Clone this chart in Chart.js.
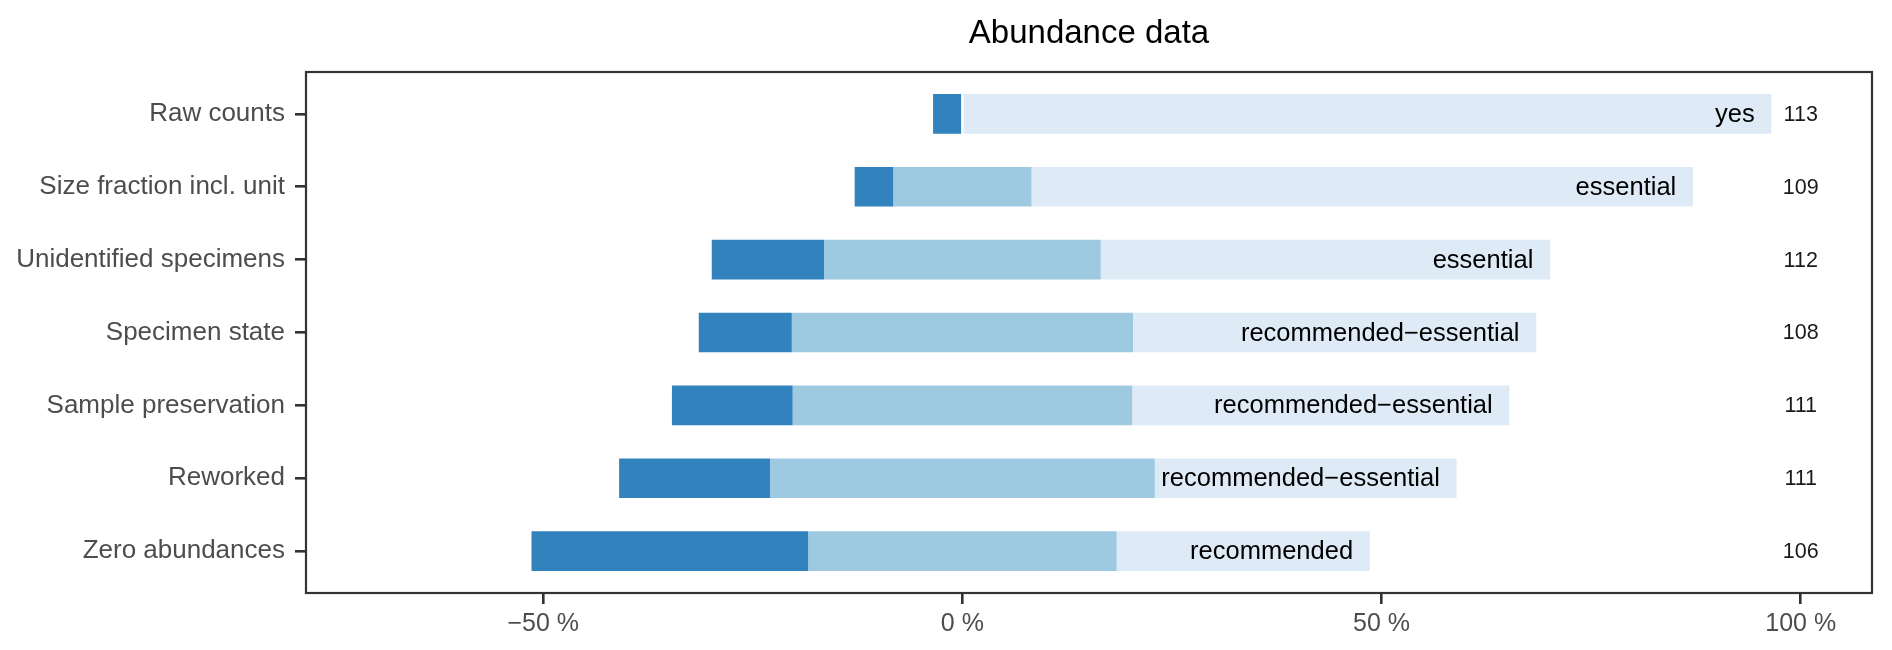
<!DOCTYPE html>
<html>
<head>
<meta charset="utf-8">
<script src="https://cdn.jsdelivr.net/npm/chart.js@4"></script>
<style>
  html, body { margin: 0; padding: 0; background: #fff; }
  #wrap { width: 1892px; height: 650px; }
</style>
</head>
<body>
<div id="wrap"><canvas id="myChart" width="1892" height="650"></canvas></div>
<script>
// data (percent of answers per question)
const categories = ['Raw counts', 'Size fraction incl. unit', 'Unidentified specimens',
  'Specimen state', 'Sample preservation', 'Reworked', 'Zero abundances'];
const lowPct     = [3.5, 4.6, 13.4, 11.1, 14.4, 18.0, 33.0];
const neutralPct = [0.0, 16.5, 33.0, 40.7, 40.5, 45.9, 36.8];
const highPct    = [96.5, 78.9, 53.6, 48.1, 45.0, 36.0, 30.2];
const barLabels  = ['yes', 'essential', 'essential', 'recommended\u2212essential',
  'recommended\u2212essential', 'recommended\u2212essential', 'recommended'];
const counts     = [113, 109, 112, 108, 111, 111, 106];
const xTicks     = [-50, 0, 50, 100];

Chart.defaults.font.family = '"Liberation Sans", Arial, Helvetica, sans-serif';

// neutral part is centred on zero
const lowData = categories.map((c, i) => ({ x: [-(neutralPct[i] / 2 + lowPct[i]), -neutralPct[i] / 2], y: i }));
const midData = categories.map((c, i) => ({ x: [-neutralPct[i] / 2, neutralPct[i] / 2], y: i }));
const highData = categories.map((c, i) => ({ x: [neutralPct[i] / 2, neutralPct[i] / 2 + highPct[i]], y: i }));

const data = {
  datasets: [
    { label: 'low', data: lowData, backgroundColor: '#3182bd', stack: 's' },
    { label: 'neutral', data: midData, backgroundColor: '#9ecae1', stack: 's' },
    { label: 'high', data: highData, backgroundColor: '#deebf7', stack: 's' }
  ]
};

// text inside bars + totals on the right, and the panel box
const textPlugin = {
  id: 'barText',
  afterDatasetsDraw(chart) {
    const { ctx, scales: { x, y }, chartArea } = chart;
    ctx.save();
    ctx.textBaseline = 'middle';
    ctx.font = '25.5px "Liberation Sans", Arial, sans-serif';
    ctx.fillStyle = '#000';
    ctx.textAlign = 'right';
    categories.forEach((c, i) => {
      const end = neutralPct[i] / 2 + highPct[i];
      ctx.fillText(barLabels[i], x.getPixelForValue(end - 2), y.getPixelForValue(i) + 1);
    });
    ctx.font = '21.5px "Liberation Sans", Arial, sans-serif';
    ctx.fillStyle = '#1a1a1a';
    ctx.textAlign = 'center';
    categories.forEach((c, i) => {
      ctx.fillText(String(counts[i]), x.getPixelForValue(100), y.getPixelForValue(i) + 1);
    });
    ctx.strokeStyle = '#333333';
    ctx.lineWidth = 2.2;
    ctx.strokeRect(chartArea.left, chartArea.top, chartArea.right - chartArea.left, chartArea.bottom - chartArea.top);
    ctx.restore();
  }
};

const config = {
  type: 'bar',
  data,
  options: {
    indexAxis: 'y',
    responsive: false,
    animation: false,
    devicePixelRatio: 1,
    barPercentage: 0.545,
    categoryPercentage: 1,
    borderWidth: 0,
    layout: { padding: { left: 0, right: 20, top: 0, bottom: 0 } },
    plugins: {
      legend: { display: false },
      tooltip: { enabled: false },
      title: {
        display: true,
        fullSize: false,
        text: 'Abundance data',
        color: '#000',
        font: { size: 33, weight: 'normal' },
        padding: { top: 14, bottom: 18.4 }
      }
    },
    scales: {
      x: {
        type: 'linear',
        stacked: false,
        min: -78.3,
        max: 108.5,
        afterBuildTicks: (axis) => { axis.ticks = xTicks.map(v => ({ value: v })); },
        afterFit: (axis) => { axis.height = 57; },
        grid: { offset: false, drawOnChartArea: false, drawTicks: true, tickLength: 11, color: '#333333', lineWidth: 2.6 },
        border: { display: false },
        ticks: {
          color: '#4d4d4d',
          font: { size: 25 },
          padding: 5,
          maxRotation: 0,
          callback: (v) => (v < 0 ? '\u2212' + Math.abs(v) : v) + ' %'
        }
      },
      y: {
        type: 'linear',
        reverse: true,
        offset: false,
        min: -0.575,
        max: 6.575,
        afterBuildTicks: (axis) => { axis.ticks = categories.map((c, i) => ({ value: i })); },
        afterFit: (axis) => { axis.width = 306; },
        grid: { offset: false, drawOnChartArea: false, drawTicks: true, tickLength: 11, color: '#333333', lineWidth: 2.6 },
        border: { display: false },
        ticks: {
          color: '#4d4d4d',
          font: { size: 26 },
          padding: 10,
          callback: (v) => categories[v]
        }
      }
    }
  },
  plugins: [textPlugin]
};

const myChart = new Chart(document.getElementById('myChart'), config);
</script>
</body>
</html>
